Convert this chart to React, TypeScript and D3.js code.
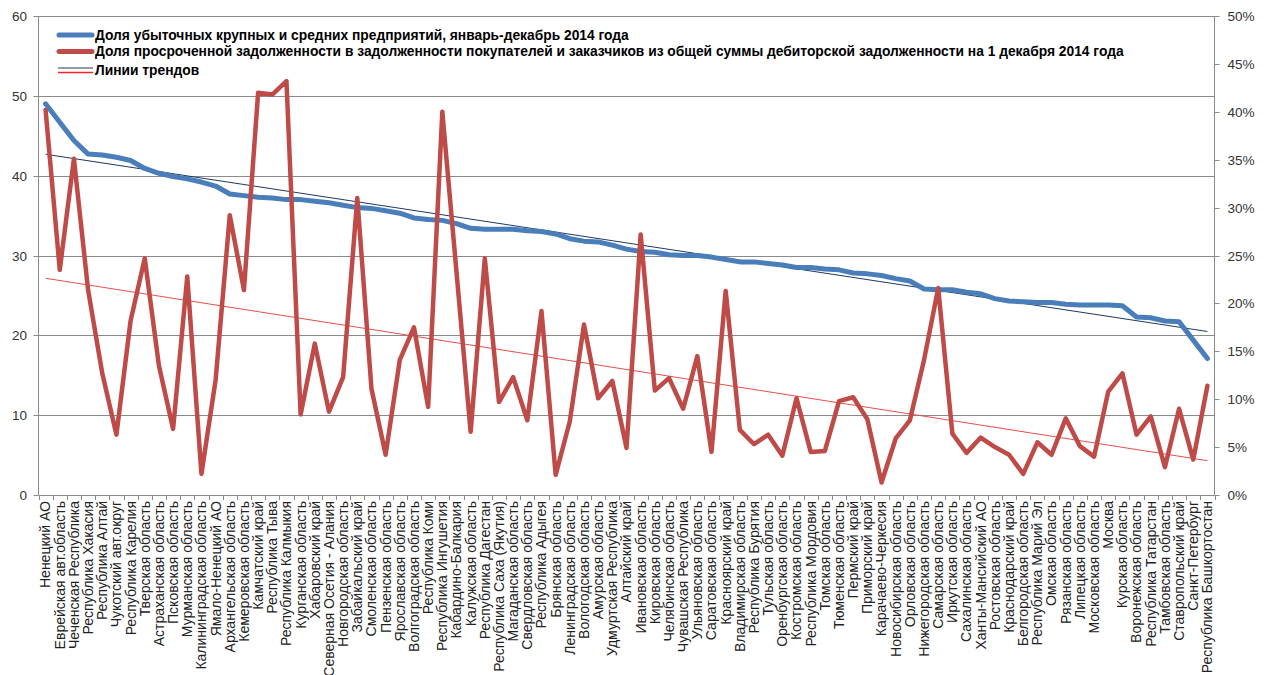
import React from 'react';
import * as d3 from 'd3';

// chart frame
const width = 1270;
const height = 675;
const plot = { left: 38.5, right: 1214.5, top: 16, bottom: 495 };

const regions = [
  'Ненецкий АО', 'Еврейская авт.область', 'Чеченская Республика', 'Республика Хакасия',
  'Республика Алтай', 'Чукотский авт.округ', 'Республика Карелия', 'Тверская область',
  'Астраханская область', 'Псковская область', 'Мурманская область', 'Калининградская область',
  'Ямало-Ненецкий АО', 'Архангельская область', 'Кемеровская область', 'Камчатский край',
  'Республика Тыва', 'Республика Калмыкия', 'Курганская область', 'Хабаровский край',
  'Северная Осетия - Алания', 'Новгородская область', 'Забайкальский край', 'Смоленская область',
  'Пензенская область', 'Ярославская область', 'Волгоградская область', 'Республика Коми',
  'Республика Ингушетия', 'Кабардино-Балкария', 'Калужская область', 'Республика Дагестан',
  'Республика Саха (Якутия)', 'Магаданская область', 'Свердловская область', 'Республика Адыгея',
  'Брянская область', 'Ленинградская область', 'Вологодская область', 'Амурская область',
  'Удмуртская Республика', 'Алтайский край', 'Ивановская область', 'Кировская область',
  'Челябинская область', 'Чувашская Республика', 'Ульяновская область', 'Саратовская область',
  'Красноярский край', 'Владимирская область', 'Республика Бурятия', 'Тульская область',
  'Оренбургская область', 'Костромская область', 'Республика Мордовия', 'Томская область',
  'Тюменская область', 'Пермский край', 'Приморский край', 'Карачаево-Черкесия',
  'Новосибирская область', 'Орловская область', 'Нижегородская область', 'Самарская область',
  'Иркутская область', 'Сахалинская область', 'Ханты-Мансийский АО', 'Ростовская область',
  'Краснодарский край', 'Белгородская область', 'Республика Марий Эл', 'Омская область',
  'Рязанская область', 'Липецкая область', 'Московская область', 'Москва',
  'Курская область', 'Воронежская область', 'Республика Татарстан', 'Тамбовская область',
  'Ставропольский край', 'Санкт-Петербург', 'Республика Башкортостан'
];

// left axis, percent of loss-making enterprises
const lossShare = [
  49.0, 46.7, 44.4, 42.7, 42.6, 42.3, 41.9, 40.9, 40.3, 39.9, 39.6, 39.2, 38.7, 37.7, 37.5, 37.3,
  37.2, 37.0, 37.0, 36.8, 36.6, 36.3, 36.0, 35.9, 35.6, 35.3, 34.7, 34.5, 34.4, 34.0, 33.4, 33.3,
  33.3, 33.3, 33.1, 33.0, 32.7, 32.1, 31.8, 31.7, 31.3, 30.8, 30.5, 30.4, 30.1, 30.0, 30.0, 29.8,
  29.5, 29.2, 29.2, 29.0, 28.8, 28.5, 28.5, 28.3, 28.2, 27.8, 27.7, 27.5, 27.1, 26.8, 25.8, 25.7,
  25.7, 25.4, 25.2, 24.6, 24.3, 24.2, 24.1, 24.1, 23.9, 23.8, 23.8, 23.8, 23.7, 22.3, 22.2, 21.8,
  21.7, 19.4, 17.1
];

// right axis, overdue share of receivables, %
const overdueShare = [
  40.2, 23.5, 35.1, 21.4, 12.7, 6.3, 18.2, 24.7, 13.5, 6.9, 22.8, 2.2, 12.0, 29.2, 21.4, 42.0,
  41.8, 43.2, 8.4, 15.8, 8.7, 12.3, 31.0, 11.1, 4.2, 14.1, 17.5, 9.2, 40.0, 23.3, 6.6, 24.7,
  9.7, 12.3, 7.8, 19.2, 2.1, 7.7, 17.8, 10.1, 11.9, 4.9, 27.2, 10.9, 12.2, 9.0, 14.5, 4.5,
  21.3, 6.8, 5.3, 6.3, 4.1, 10.1, 4.5, 4.6, 9.8, 10.2, 7.9, 1.3, 5.9, 7.8, 14.1, 21.6,
  6.4, 4.4, 6.0, 5.0, 4.2, 2.2, 5.5, 4.2, 8.0, 5.1, 4.0, 10.8, 12.7, 6.3, 8.2, 2.9,
  9.0, 3.7, 11.4
];

const leftTicks = [0, 10, 20, 30, 40, 50, 60];
const rightTicks = [0, 5, 10, 15, 20, 25, 30, 35, 40, 45, 50];

const legendLabels = [
  'Доля убыточных крупных и средних предприятий, январь-декабрь 2014 года',
  'Доля просроченной задолженности в задолженности покупателей и заказчиков из общей суммы дебиторской задолженности на 1 декабря 2014 года',
  'Линии трендов'
];

const blue = '#4a7ebb';
const red = '#be4b48';
const grid = '#8a8a8a';
const font = '"Liberation Sans", Arial, sans-serif';

// least squares line over the category index
function trendEnds(values: number[]) {
  const n = values.length;
  const mx = d3.mean(values, (_, i) => i) as number;
  const my = d3.mean(values) as number;
  let sxy = 0;
  let sxx = 0;
  values.forEach((v, i) => {
    sxy += (i - mx) * (v - my);
    sxx += (i - mx) * (i - mx);
  });
  const b = sxy / sxx;
  const a = my - b * mx;
  return [0, n - 1].map(i => ({ i, v: a + b * i }));
}

export default function App() {
  const x = d3.scaleBand<string>().domain(regions).range([plot.left, plot.right]).padding(0);
  const cx = (i: number) => (x(regions[i]) as number) + x.bandwidth() / 2;
  const yLeft = d3.scaleLinear().domain([0, 60]).range([plot.bottom, plot.top]);
  const yRight = d3.scaleLinear().domain([0, 50]).range([plot.bottom, plot.top]);

  const lineLeft = d3.line<number>().x((_, i) => cx(i)).y(d => yLeft(d));
  const lineRight = d3.line<number>().x((_, i) => cx(i)).y(d => yRight(d));
  const trendLine = (s: d3.ScaleLinear<number, number>) =>
    d3.line<{ i: number; v: number }>().x(d => cx(d.i)).y(d => s(d.v));

  const boundaries = regions.map(r => x(r) as number).concat([plot.right]);

  return (
    <svg width={width} height={height} style={{ position: 'absolute', left: 0, top: 0 }} fontFamily={font}>
      <rect width={width} height={height} fill="#fff" />

      {/* gridlines */}
      {leftTicks.slice(1).map(t => (
        <line key={t} x1={plot.left} x2={plot.right} y1={Math.round(yLeft(t)) + 0.5} y2={Math.round(yLeft(t)) + 0.5}
          stroke={grid} strokeWidth={1} />
      ))}

      {/* left axis */}
      <line x1={plot.left} x2={plot.left} y1={plot.top} y2={plot.bottom} stroke={grid} />
      {leftTicks.map(t => (
        <g key={t} transform={`translate(0,${Math.round(yLeft(t)) + 0.5})`}>
          <line x1={plot.left - 5} x2={plot.left} stroke={grid} />
          <text x={27} dy="0.35em" textAnchor="end" fontSize={13.5} fill="#333">{t}</text>
        </g>
      ))}

      {/* right axis */}
      <line x1={plot.right} x2={plot.right} y1={plot.top} y2={plot.bottom} stroke={grid} />
      {rightTicks.map(t => (
        <g key={t} transform={`translate(0,${Math.round(yRight(t)) + 0.5})`}>
          <line x1={plot.right} x2={plot.right + 5} stroke={grid} />
          <text x={plot.right + 13} dy="0.35em" fontSize={13.5} fill="#333">{t}%</text>
        </g>
      ))}

      {/* category axis */}
      <line x1={plot.left} x2={plot.right} y1={plot.bottom + 0.5} y2={plot.bottom + 0.5} stroke={grid} />
      {boundaries.map((b, i) => (
        <line key={i} x1={Math.round(b) + 0.5} x2={Math.round(b) + 0.5} y1={plot.bottom} y2={plot.bottom + 5} stroke={grid} />
      ))}
      {regions.map((r, i) => (
        <text key={r} transform={`translate(${cx(i)},${plot.bottom + 6}) rotate(-90)`} dy="0.35em"
          textAnchor="end" fontSize={14} fill="#222">{r}</text>
      ))}

      {/* trend lines */}
      <path d={trendLine(yLeft)(trendEnds(lossShare)) as string} fill="none" stroke="#1f3864" strokeWidth={1} />
      <path d={trendLine(yRight)(trendEnds(overdueShare)) as string} fill="none" stroke="#e5504c" strokeWidth={1} />

      {/* series */}
      <path d={lineLeft(lossShare) as string} fill="none" stroke={blue} strokeWidth={5}
        strokeLinejoin="round" strokeLinecap="round" />
      <path d={lineRight(overdueShare) as string} fill="none" stroke={red} strokeWidth={4.5}
        strokeLinejoin="round" strokeLinecap="round" />

      {/* legend */}
      <g fontSize={13.8} fontWeight="bold" fill="#000">
        <line x1={59} x2={92} y1={35} y2={35} stroke={blue} strokeWidth={5} strokeLinecap="round" />
        <text x={95} y={35} dy="0.35em">{legendLabels[0]}</text>
        <line x1={59} x2={92} y1={51.5} y2={51.5} stroke={red} strokeWidth={5} strokeLinecap="round" />
        <text x={95} y={51.5} dy="0.35em">{legendLabels[1]}</text>
        <line x1={58} x2={93} y1={68} y2={68} stroke="#1f3864" strokeWidth={1.2} />
        <line x1={58} x2={93} y1={72.5} y2={72.5} stroke="#ff2020" strokeWidth={1.5} />
        <text x={95} y={70} dy="0.35em">{legendLabels[2]}</text>
      </g>
    </svg>
  );
}
